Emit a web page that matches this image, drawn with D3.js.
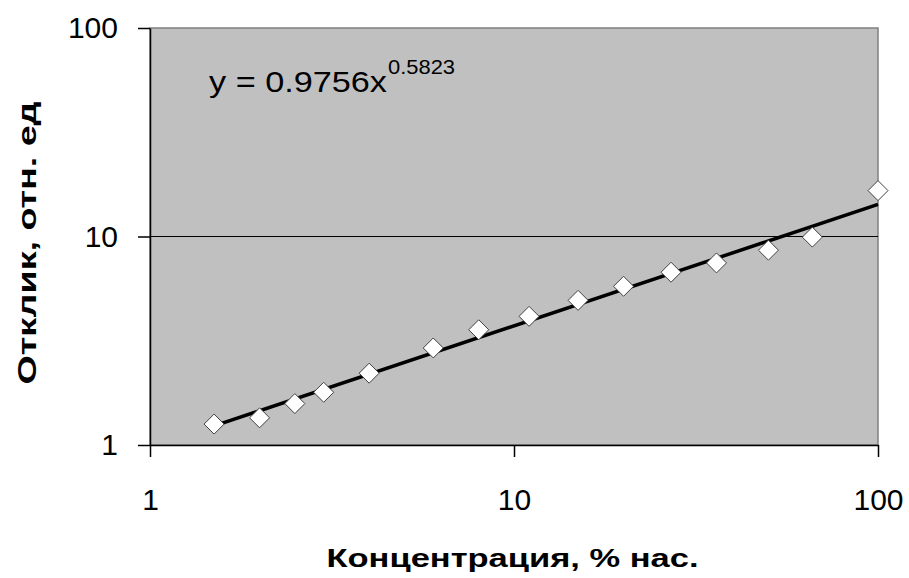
<!DOCTYPE html>
<html>
<head>
<meta charset="utf-8">
<script src="https://cdn.jsdelivr.net/npm/d3@7"></script>
<style>
  body { margin: 0; background: #fff; }
  text { font-family: "Liberation Sans", Arial, sans-serif; }
</style>
</head>
<body>
<div id="chart"></div>
<script>
// concentration (% sat.) and response (rel. units)
var concentration = [1.5, 2, 2.5, 3, 4, 6, 8, 11, 15, 20, 27, 36, 50, 66, 100];
var response = [1.26, 1.35, 1.58, 1.79, 2.21, 2.92, 3.57, 4.14, 4.94, 5.77, 6.74, 7.47, 8.6, 9.93, 16.6];
var tickValues = [1, 10, 100];
var trendA = 0.9756;
var trendB = 0.5823;

var svgWidth = 909;
var svgHeight = 578;

var chartMargin = {
    top: 28,
    right: 31,
    bottom: 133,
    left: 150
};

var chartWidth = svgWidth - chartMargin.left - chartMargin.right;
var chartHeight = svgHeight - chartMargin.top - chartMargin.bottom;

var svg = d3.select("#chart")
            .append("svg")
            .attr("width", svgWidth)
            .attr("height", svgHeight);

var chartGroup = svg.append("g")
                    .attr("transform", `translate(${chartMargin.left}, ${chartMargin.top})`);

var xScale = d3.scaleLog()
               .domain([1, 100])
               .range([0, chartWidth]);

var yScale = d3.scaleLog()
               .domain([1, 100])
               .range([chartHeight, 0]);

// plot background
chartGroup.append("rect")
          .attr("width", chartWidth)
          .attr("height", chartHeight)
          .attr("fill", "#c0c0c0")
          .attr("stroke", "#808080")
          .attr("stroke-width", 1.5);

// gridline at 10
chartGroup.append("line")
          .attr("x1", 0)
          .attr("x2", chartWidth)
          .attr("y1", yScale(10))
          .attr("y2", yScale(10))
          .attr("stroke", "#000")
          .attr("stroke-width", 1);

var xAxis = d3.axisBottom(xScale)
              .tickValues(tickValues)
              .tickFormat(d3.format("d"))
              .tickSize(12)
              .tickSizeOuter(0)
              .tickPadding(32);

var yAxis = d3.axisLeft(yScale)
              .tickValues(tickValues)
              .tickFormat(d3.format("d"))
              .tickSize(12)
              .tickSizeOuter(0)
              .tickPadding(20);

var xAxisG = chartGroup.append("g")
          .attr("transform", `translate(0, ${chartHeight})`)
          .call(xAxis);

var yAxisG = chartGroup.append("g")
          .call(yAxis);

[xAxisG, yAxisG].forEach(function(g){
    g.select(".domain").attr("stroke", "#000").attr("stroke-width", 1.5);
    g.selectAll(".tick line").attr("stroke", "#000").attr("stroke-width", 1.5);
    g.selectAll(".tick text")
     .attr("fill", "#000")
     .style("font-family", "'Liberation Sans', Arial, sans-serif")
     .style("font-size", "30px");
});

// power trendline y = a*x^b
var trendData = d3.extent(concentration).map(function(x){
    return [x, trendA * Math.pow(x, trendB)];
});

var line = d3.line()
             .x(d => xScale(d[0]))
             .y(d => yScale(d[1]));

chartGroup.append("path")
          .datum(trendData)
          .attr("d", line)
          .attr("fill", "none")
          .attr("stroke", "#000")
          .attr("stroke-width", 3.5);

// diamond markers
var points = concentration.map((c, i) => ({x: c, y: response[i]}));

chartGroup.selectAll(".marker")
          .data(points)
          .enter()
          .append("path")
          .attr("class", "marker")
          .attr("transform", d => `translate(${xScale(d.x)}, ${yScale(d.y)})`)
          .attr("d", "M0,-10L10,0L0,10L-10,0Z")
          .attr("fill", "#fff")
          .attr("stroke", "#404040")
          .attr("stroke-width", 1);

// equation
svg.append("text")
   .attr("x", 209)
   .attr("y", 92)
   .attr("textLength", 178)
   .attr("lengthAdjust", "spacingAndGlyphs")
   .style("font-size", "30px")
   .attr("fill", "#000")
   .text(`y = ${trendA}x`);

svg.append("text")
   .attr("x", 388)
   .attr("y", 74)
   .attr("textLength", 67)
   .attr("lengthAdjust", "spacingAndGlyphs")
   .style("font-size", "20px")
   .attr("fill", "#000")
   .text(trendB);

// axis titles
svg.append("text")
   .attr("x", 512.5)
   .attr("y", 567)
   .attr("textLength", 372)
   .attr("lengthAdjust", "spacingAndGlyphs")
   .style("text-anchor", "middle")
   .style("font-size", "25px")
   .style("font-weight", "bold")
   .text("Концентрация, % нас.");

svg.append("text")
   .attr("transform", "rotate(-90)")
   .attr("x", -243)
   .attr("y", 36)
   .attr("textLength", 283)
   .attr("lengthAdjust", "spacingAndGlyphs")
   .style("text-anchor", "middle")
   .style("font-size", "25px")
   .style("font-weight", "bold")
   .text("Отклик, отн. ед");
</script>
</body>
</html>
